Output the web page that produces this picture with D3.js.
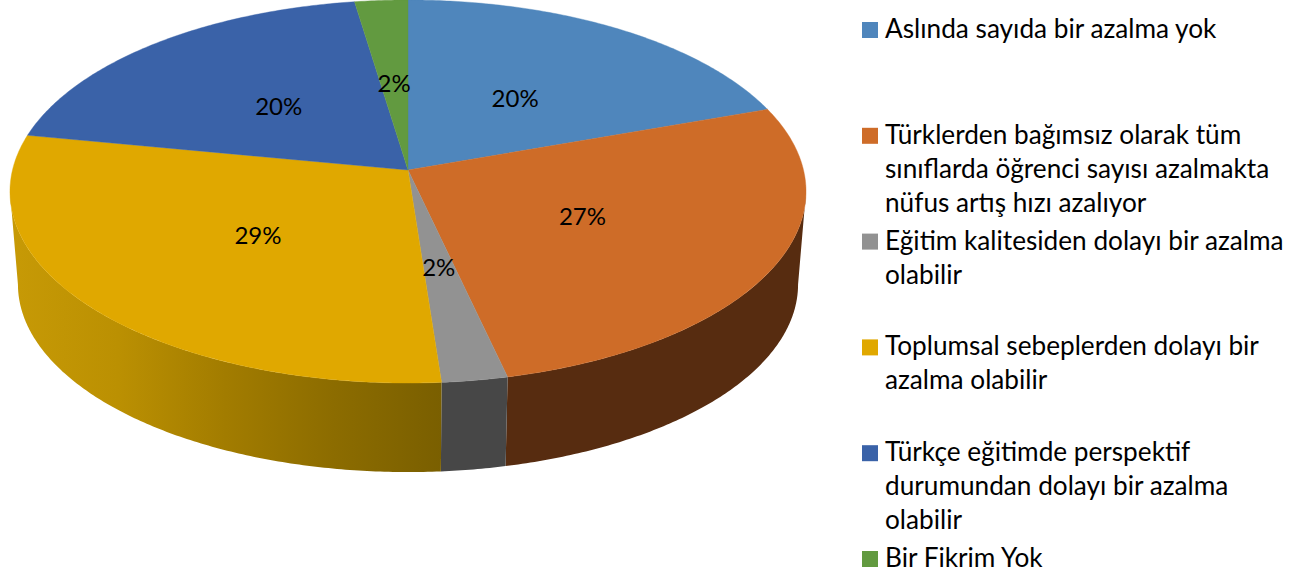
<!DOCTYPE html>
<html>
<head>
<meta charset="utf-8">
<script src="https://cdn.jsdelivr.net/npm/d3@7"></script>
<style>
    html, body { margin: 0; padding: 0; background: #fff; }
    svg { display: block; }
    text { font-family: Lato, "Open Sans", sans-serif; fill: #000; }
</style>
</head>
<body>
<svg id="chart" width="1316" height="577"></svg>
<script>
/* ---------------------- DATA ---------------------- */
let categories = [
    ['Aslında sayıda bir azalma yok'],
    ['Türklerden bağımsız olarak tüm', 'sınıflarda öğrenci sayısı azalmakta', 'nüfus artış hızı azalıyor'],
    ['Eğitim kalitesiden dolayı bir azalma', 'olabilir'],
    ['Toplumsal sebeplerden dolayı bir', 'azalma olabilir'],
    ['Türkçe eğitimde perspektif', 'durumundan dolayı bir azalma', 'olabilir'],
    ['Bir Fikrim Yok']
]
let shares = [19.6, 26.8, 2.4, 29.2, 19.6, 2.4]
let topColors = ['#4f86bc', '#ce6c28', '#929292', '#e0a800', '#3a62a8', '#629a40']
let wallColors = ['#2f5070', '#572c10', '#474747', 'url(#yellowWall)', '#233b65', '#3b5c26']
let yellowWallStops = ['#c79a06', '#bb9002', '#a27c00', '#8c6c00', '#7a5f00']

/* ------------------- PERSPECTIVE ------------------- */
// the pie lies on a tilted plane, so the hub is not the middle of the ellipse
let hub = { x: 408, y: 170 }
let spreadX = 395.5
let spreadY = 189.1
let tilt = 0.1123
// the lower rim is the upper one shrunk towards a far vanishing point
let rimScale = 0.98
let vanishY = 4835
// the wall is only seen between the two widest points of the ellipse
let wallFrom = Math.acos(-tilt)
let wallTo = 2 * Math.PI - wallFrom

function project(angle, r = 1) {
    let u = r * Math.sin(angle)
    let v = r * Math.cos(angle)
    let w = 1 + tilt * v
    return [hub.x + spreadX * u / w, hub.y - spreadY * v / w]
}

function projectLow(angle) {
    let [x, y] = project(angle)
    return [hub.x + rimScale * (x - hub.x), vanishY + rimScale * (y - vanishY)]
}

function arcAngles(start, end) {
    let n = Math.ceil((end - start) / 0.01)
    return d3.range(n + 1).map(i => start + (end - start) * i / n)
}

/* ---------------------- DRAW ---------------------- */
let svg = d3.select('#chart')
let line = d3.line()
let slices = d3.pie().sort(null)(shares)

// yellow wall gets darker going to the front
let yellowSlice = slices[3]
let gradient = svg.append('defs').append('linearGradient')
    .attr('id', 'yellowWall')
    .attr('gradientUnits', 'userSpaceOnUse')
    .attr('x1', project(wallTo)[0])
    .attr('x2', project(yellowSlice.startAngle)[0])
    .attr('y1', 0).attr('y2', 0)
gradient.selectAll('stop')
    .data(yellowWallStops)
    .enter().append('stop')
    .attr('offset', (d, i) => i / (yellowWallStops.length - 1))
    .attr('stop-color', d => d)

// walls first, the top face is laid over their upper edge
svg.append('g').selectAll('path')
    .data(slices)
    .enter().append('path')
    .attr('d', d => {
        let start = Math.max(d.startAngle, wallFrom)
        let end = Math.min(d.endAngle, wallTo)
        if (start >= end) return null
        let angles = arcAngles(start, end)
        return line(angles.map(a => project(a)).concat(angles.slice().reverse().map(projectLow))) + 'Z'
    })
    .attr('fill', (d, i) => wallColors[i])

svg.append('g').selectAll('path')
    .data(slices)
    .enter().append('path')
    .attr('d', d => line([[hub.x, hub.y]].concat(arcAngles(d.startAngle, d.endAngle).map(a => project(a)))) + 'Z')
    .attr('fill', (d, i) => topColors[i])
    .attr('stroke', (d, i) => topColors[i])
    .attr('stroke-width', 0.4)

let labelRadius = 0.49
let pct = d3.format('.0f')
svg.append('g').selectAll('text')
    .data(slices)
    .enter().append('text')
    .attr('x', d => project((d.startAngle + d.endAngle) / 2, labelRadius)[0])
    .attr('y', d => project((d.startAngle + d.endAngle) / 2, labelRadius)[1])
    .attr('dy', '0.4em')
    .attr('text-anchor', 'middle')
    .style('font-size', '24px')
    .text(d => pct(d.value) + '%')

/* --------------------- LEGEND --------------------- */
let legendY = d3.scalePoint().domain(d3.range(categories.length)).range([30, 559])
let legendLeading = 34

let rows = svg.append('g').selectAll('g')
    .data(categories)
    .enter().append('g')
    .attr('transform', (d, i) => 'translate(862,' + legendY(i) + ')')

rows.append('rect')
    .attr('y', -8).attr('width', 16).attr('height', 16)
    .attr('fill', (d, i) => topColors[i])

rows.selectAll('text')
    .data(d => d)
    .enter().append('text')
    .attr('x', 23)
    .attr('y', (d, i) => 8 + i * legendLeading)
    .style('font-size', '26.2px')
    .text(d => d)
</script>
</body>
</html>
